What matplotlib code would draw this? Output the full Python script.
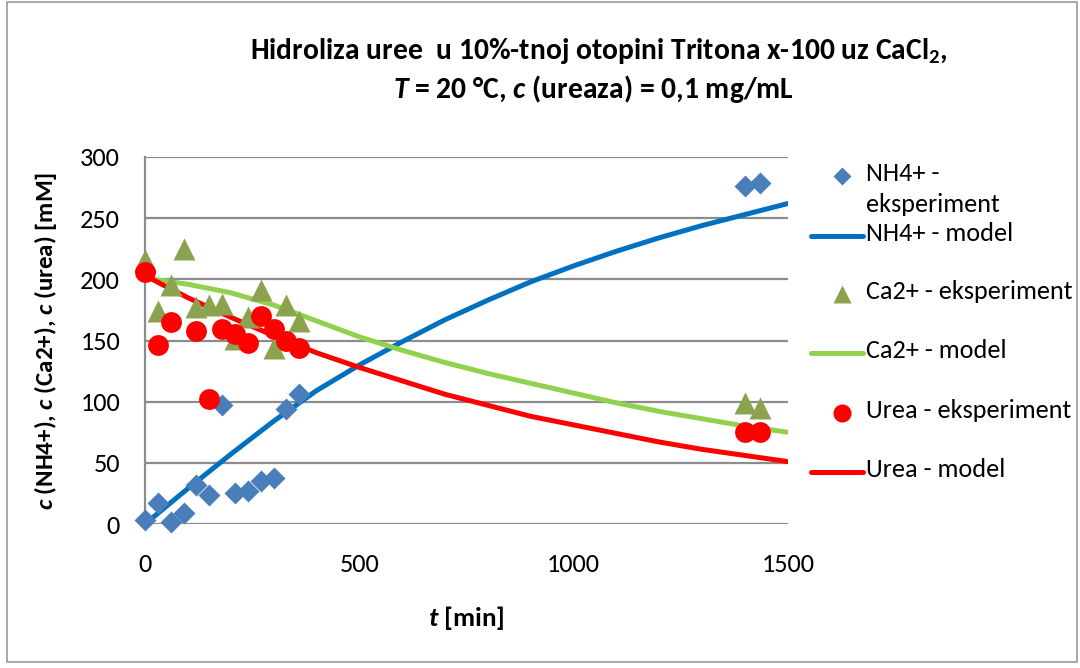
import matplotlib
matplotlib.use("Agg")
import matplotlib.pyplot as plt
from matplotlib.patches import Rectangle

FONT = "Carlito"
plt.rcParams["font.family"] = [FONT, "DejaVu Sans"]
plt.rcParams["mathtext.fontset"] = "custom"
plt.rcParams["mathtext.it"] = f"{FONT}:italic:bold"
plt.rcParams["mathtext.rm"] = f"{FONT}:bold"
plt.rcParams["mathtext.bf"] = f"{FONT}:bold"

# experimental points
t_exp = [0, 30, 60, 90, 120, 150, 180, 210, 240, 270, 300, 330, 360, 1400, 1435]
nh4_exp = [3, 17, 2, 9, 32, 24, 97, 25, 27, 35, 38, 94, 106, 276, 279]
ca_exp = [216, 174, 195, 225, 177, 179, 180, 151, 169, 191, 144, 179, 166, 99, 95]
urea_exp = [206, 146, 165, None, 158, 102, 159, 155, 148, 170, 159, 150, 144, 75, 75]

# model curves
t_model = [0, 100, 200, 300, 400, 500, 600, 700, 800, 900, 1000, 1100, 1200, 1300, 1400, 1500]
nh4_model = [0, 29, 57, 84, 109, 130, 149, 167, 183, 198, 211, 223, 234, 244, 253, 262]
ca_model = [201, 196, 189, 179, 166, 153, 142, 132, 123, 115, 107, 99, 92, 86, 80, 75]
urea_model = [203, 185, 169, 154, 140, 128, 117, 106, 97, 88, 81, 74, 67, 61, 56, 51]

x_ticks = [0, 500, 1000, 1500]
y_ticks = [0, 50, 100, 150, 200, 250, 300]

labels = ["NH4+ -\neksperiment", "NH4+ - model", "Ca2+ - eksperiment",
          "Ca2+ - model", "Urea - eksperiment", "Urea - model"]

C_NH4_PT, C_NH4_LN = "#4A7EBB", "#0070C0"
C_CA_PT, C_CA_LN = "#8BA34E", "#92D050"
C_U = "#FF0000"
GRID = "#8C8C8C"

W, H = 1080, 668
fig = plt.figure(figsize=(W / 100, H / 100), dpi=100)
ax = fig.add_axes([145 / W, 1 - 524 / H, (788 - 145) / W, (524 - 157) / H])

ax.plot(t_model, nh4_model, color=C_NH4_LN, lw=3.6, solid_capstyle="round", zorder=3)
ax.plot(t_model, ca_model, color=C_CA_LN, lw=3.6, solid_capstyle="round", zorder=3)
ax.plot(t_model, urea_model, color=C_U, lw=3.6, solid_capstyle="round", zorder=3)

ax.plot(t_exp, nh4_exp, ls="none", marker="D", ms=11, color=C_NH4_PT, mec="none",
        clip_on=False, zorder=4)
ax.plot(t_exp, ca_exp, ls="none", marker="^", ms=16, color=C_CA_PT, mec="none",
        clip_on=False, zorder=5)
tu = [t for t, v in zip(t_exp, urea_exp) if v is not None]
vu = [v for v in urea_exp if v is not None]
ax.plot(tu, vu, ls="none", marker="o", ms=15, color=C_U, mec="none",
        clip_on=False, zorder=6)

ax.set_xlim(0, 1500)
ax.set_ylim(0, 300)
ax.set_xticks(x_ticks)
ax.set_yticks(y_ticks)
ax.tick_params(axis="both", length=0, labelsize=19)
ax.tick_params(axis="y", pad=18)
ax.tick_params(axis="x", pad=21)
ax.yaxis.grid(True, color=GRID, lw=1.6, zorder=0)
ax.set_axisbelow(True)
for s in ["top", "right", "bottom"]:
    ax.spines[s].set_visible(False)
ax.spines["left"].set_color(GRID)
ax.spines["left"].set_linewidth(1.6)

ax.set_xlabel("$t$ [min]", fontsize=19.5, fontweight="bold", labelpad=20)
ax.set_ylabel("$c$ (NH4+), $c$ (Ca2+), $c$ (urea) [mM]", fontsize=18,
              fontweight="bold", labelpad=15)

fig.text(599 / W, 1 - 51 / H, "Hidroliza uree  u 10%-tnoj otopini Tritona x-100 uz CaCl$_2$,",
         ha="center", va="center", fontsize=21.3, fontweight="bold")
fig.text(593 / W, 1 - 89 / H, "$T$ = 20 °C, $c$ (ureaza) = 0,1 mg/mL",
         ha="center", va="center", fontsize=21.3, fontweight="bold")

# legend drawn in figure pixel space
lax = fig.add_axes([0, 0, 1, 1], facecolor="none")
lax.set_xlim(0, W)
lax.set_ylim(H, 0)
lax.axis("off")
rows = [176, 236, 294, 353, 413, 472]
styles = [("D", C_NH4_PT, 9), ("-", C_NH4_LN, None), ("^", C_CA_PT, 13),
          ("-", C_CA_LN, None), ("o", C_U, 13), ("-", C_U, None)]
for y, (st, col, ms), lab in zip(rows, styles, labels):
    if st == "-":
        lax.plot([811, 863], [y, y], color=col, lw=3.6, solid_capstyle="round")
    else:
        lax.plot([842], [y], marker=st, ms=ms, color=col, mec="none", ls="none")
    lax.text(866, y - 14, lab, ha="left", va="top", fontsize=18.8, linespacing=1.4)

fig.patches.append(Rectangle((7 / W, 6 / H), (W - 10) / W, (H - 8) / H,
                             transform=fig.transFigure, fill=False,
                             edgecolor="#9A9A9A", lw=1.2))

fig.savefig("out.png", dpi=100)
